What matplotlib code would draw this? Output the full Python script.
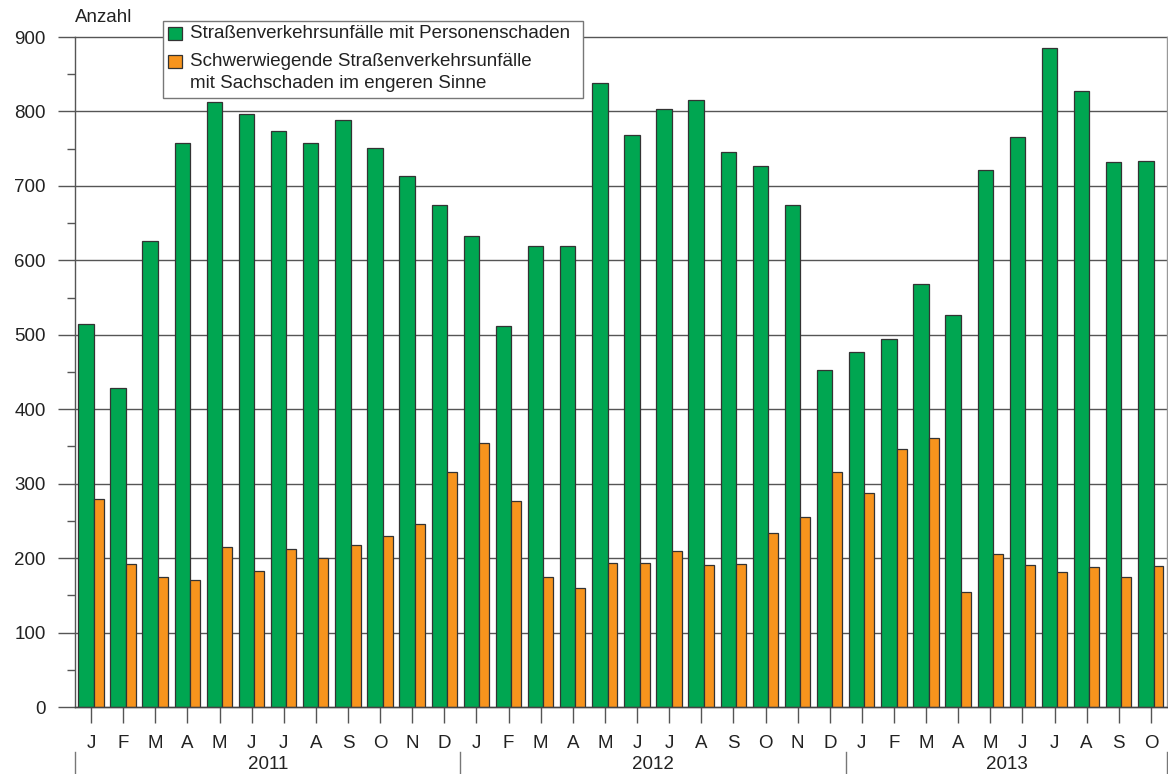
import matplotlib
matplotlib.use('Agg')
import matplotlib.pyplot as plt
from matplotlib.patches import Rectangle
import numpy as np

plt.rcParams['font.family'] = ['Liberation Sans', 'DejaVu Sans']

months = ['J', 'F', 'M', 'A', 'M', 'J', 'J', 'A', 'S', 'O', 'N', 'D'] * 2 + \
         ['J', 'F', 'M', 'A', 'M', 'J', 'J', 'A', 'S', 'O']
years = ['2011', '2012', '2013']
year_counts = [12, 12, 10]
personenschaden = [515, 428, 626, 758, 813, 796, 774, 758, 789, 751, 713, 674,
                   633, 512, 619, 619, 838, 769, 803, 815, 745, 727, 674, 453,
                   477, 495, 568, 527, 721, 766, 885, 827, 732, 734]
sachschaden = [280, 192, 174, 171, 215, 183, 212, 200, 218, 230, 246, 316,
               355, 277, 175, 160, 194, 193, 210, 191, 192, 234, 255, 316,
               288, 347, 362, 155, 206, 191, 181, 188, 175, 190]
label_p = 'Straßenverkehrsunfälle mit Personenschaden'
label_s = 'Schwerwiegende Straßenverkehrsunfälle\nmit Sachschaden im engeren Sinne'
y_label = 'Anzahl'
yticks = list(range(0, 901, 100))
yminor = list(range(50, 900, 100))

GREEN = '#00A651'
ORANGE = '#F7941D'
EDGE = '#333333'
TXT = '#222222'
FS = 13.5

W, H = 1168, 774
fig = plt.figure(figsize=(W / 100, H / 100), dpi=100)
ax = fig.add_axes([75 / W, 1 - 707 / H, 1092 / W, 670 / H])

n = len(months)
x = np.arange(n)
ax.bar(x + 0.10, personenschaden, width=0.48, align='edge', color=GREEN,
       edgecolor=EDGE, linewidth=0.9, zorder=2)
ax.bar(x + 0.58, sachschaden, width=0.31, align='edge', color=ORANGE,
       edgecolor=EDGE, linewidth=0.9, zorder=2)

ax.set_xlim(0, n)
ax.set_ylim(0, 900)
ax.set_yticks(yticks)
ax.set_yticks(yminor, minor=True)
ax.set_yticklabels([str(v) for v in yticks], fontsize=FS, color=TXT)
ax.yaxis.grid(True, which='major', color='#555555', linewidth=1.0)
for gl in ax.get_ygridlines():
    gl.set_clip_on(False)
ax.set_axisbelow(True)
ax.tick_params(axis='y', which='major', length=12, width=1, color='#555555',
               direction='out', pad=9)
ax.tick_params(axis='y', which='minor', length=6, width=1, color='#555555',
               direction='out')

ax.set_xticks(x + 0.5)
ax.set_xticklabels(months, fontsize=FS, color=TXT)
ax.tick_params(axis='x', which='major', length=11.5, width=1, color='#555555',
               direction='out', pad=9)

ax.spines['top'].set_visible(False)
ax.spines['left'].set_color('#555555')
ax.spines['bottom'].set_color('#444444')
ax.spines['right'].set_color('#999999')
for s in ['left', 'bottom', 'right']:
    ax.spines[s].set_linewidth(1.0)

# year separators and labels
tr = ax.get_xaxis_transform()
bounds = np.concatenate([[0], np.cumsum(year_counts)])
for b in bounds:
    ax.plot([b, b], [-0.067, -0.1], transform=tr, color='#777777',
            linewidth=1.0, clip_on=False)
for i, yl in enumerate(years):
    c = (bounds[i] + bounds[i + 1]) / 2
    ax.text(c, -0.0855, yl, transform=tr, ha='center', va='center',
            fontsize=FS, color=TXT)

# y label
fig.text(75 / W, 1 - 18 / H, y_label, ha='left', va='center', fontsize=FS,
         color=TXT)

# legend (manual)
def fx(px):
    return px / W

def fy(py):
    return 1 - py / H

fig.patches.append(Rectangle((fx(163), fy(98)), fx(583) - fx(163), fy(21) - fy(98),
                             transform=fig.transFigure, facecolor='white',
                             edgecolor='#777777', linewidth=1.0, zorder=5))
fig.patches.append(Rectangle((fx(168), fy(40)), fx(182) - fx(168), fy(27) - fy(40),
                             transform=fig.transFigure, facecolor=GREEN,
                             edgecolor=EDGE, linewidth=0.9, zorder=6))
fig.patches.append(Rectangle((fx(168), fy(68)), fx(182) - fx(168), fy(55) - fy(68),
                             transform=fig.transFigure, facecolor=ORANGE,
                             edgecolor=EDGE, linewidth=0.9, zorder=6))
fig.text(fx(190), fy(34), label_p, ha='left', va='center', fontsize=FS,
         color=TXT, zorder=7)
lines = label_s.split('\n')
fig.text(fx(190), fy(62), lines[0], ha='left', va='center', fontsize=FS,
         color=TXT, zorder=7)
fig.text(fx(190), fy(84), lines[1], ha='left', va='center', fontsize=FS,
         color=TXT, zorder=7)

fig.savefig('out.png', dpi=100)
